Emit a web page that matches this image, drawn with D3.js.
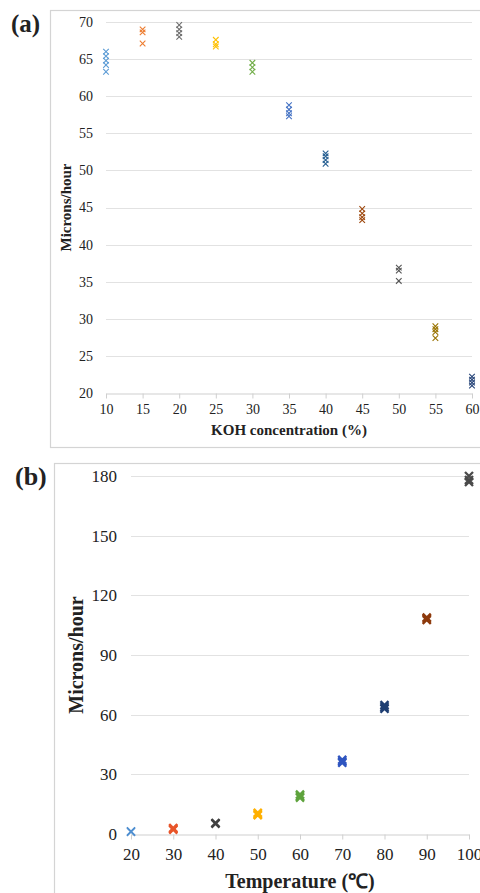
<!DOCTYPE html>
<html>
<head>
<meta charset="utf-8">
<script src="https://cdn.jsdelivr.net/npm/d3@7"></script>
<style>
  body { margin: 0; background: #fff; }
  svg { display: block; }
  svg text { font-family: "Liberation Serif", "Times New Roman", serif !important; fill: #222; }
</style>
</head>
<body>
<div id="chart"></div>
<script>
// panel (a): etch rate vs KOH concentration
var kohConc = [10, 15, 20, 25, 30, 35, 40, 45, 50, 55, 60];
var kohRates = [
  [66.0, 65.4, 64.8, 64.2, 63.3],
  [69.0, 68.6, 67.1],
  [69.6, 69.0, 68.5, 68.0],
  [67.6, 67.0, 66.7],
  [64.5, 63.9, 63.3],
  [58.8, 58.2, 57.7, 57.3],
  [52.3, 51.9, 51.4, 50.9],
  [44.8, 44.2, 43.7, 43.3],
  [36.9, 36.5, 35.1],
  [29.0, 28.6, 28.2, 27.4],
  [22.2, 21.8, 21.4, 21.0]
];
var kohColors = ["#5b9bd5", "#ed7d31", "#6f6f6f", "#ffc000", "#70ad47", "#4472c4",
                 "#255e91", "#9e480e", "#555555", "#997300", "#264478"];
var kohYTicks = [20, 25, 30, 35, 40, 45, 50, 55, 60, 65, 70];
var kohXTicks = [10, 15, 20, 25, 30, 35, 40, 45, 50, 55, 60];

// panel (b): etch rate vs temperature
var temps = [20, 30, 40, 50, 60, 70, 80, 90, 100];
var tempRates = [
  [1.0, 1.2, 1.4],
  [2.2, 2.6, 3.0],
  [5.2, 5.5],
  [9.5, 10.0, 10.6],
  [18.3, 19.0, 19.8],
  [35.8, 36.5, 37.3],
  [63.0, 63.8, 64.8],
  [107.6, 108.2, 108.8],
  [177.0, 178.0, 180.0]
];
var tempColors = ["#4f8fd0", "#e8552a", "#404040", "#ffb000", "#5ea33d", "#2f55c0",
                  "#1f3f73", "#8e3a0c", "#4a4a4a"];
var tempYTicks = [0, 30, 60, 90, 120, 150, 180];
var tempXTicks = [20, 30, 40, 50, 60, 70, 80, 90, 100];

var W = 480, H = 893;
var FONT = "'Liberation Serif', 'Times New Roman', serif";
var svg = d3.select("#chart").append("svg")
    .attr("width", W)
    .attr("height", H)
    .style("font-family", FONT);

function xmark(s) {
    return "M" + (-s) + "," + (-s) + "L" + s + "," + s + "M" + (-s) + "," + s + "L" + s + "," + (-s);
}

function drawpanel(cfg) {
    var x = d3.scaleLinear().domain(cfg.xdomain).range(cfg.xrange);
    var y = d3.scaleLinear().domain(cfg.ydomain).range(cfg.yrange);

    // outer frame
    svg.append("rect")
        .attr("x", cfg.frame[0] + 0.5)
        .attr("y", cfg.frame[1] + 0.5)
        .attr("width", cfg.frame[2])
        .attr("height", cfg.frame[3])
        .attr("fill", "none")
        .attr("stroke", "#d4d4d4")
        .attr("stroke-width", 1.2);

    svg.append("text")
        .attr("x", cfg.label[0])
        .attr("y", cfg.label[1])
        .attr("font-weight", "bold")
        .attr("font-size", cfg.labelSize + "px")
        .text(cfg.name);

    var g = svg.append("g");

    // gridlines
    g.selectAll(".grid")
        .data(cfg.yticks.slice(1))
        .enter().append("line")
        .attr("x1", cfg.xrange[0]).attr("x2", cfg.xrange[1])
        .attr("y1", function(d) { return Math.round(y(d)) + 0.5; })
        .attr("y2", function(d) { return Math.round(y(d)) + 0.5; })
        .attr("stroke", "#e2e2e2");

    // x axis
    var xa = g.append("g")
        .attr("transform", "translate(0," + (Math.round(y(cfg.ydomain[0])) + 0.5) + ")")
        .call(d3.axisBottom(x).tickValues(cfg.xticks).tickSize(5).tickSizeOuter(0).tickPadding(cfg.xpad));
    xa.attr("font-family", null);
    xa.select(".domain").attr("stroke", "#cfcfcf");
    xa.selectAll(".tick line").attr("stroke", "#cfcfcf");
    xa.selectAll(".tick text")
        .attr("font-size", cfg.tickSize + "px")
        .style("font-family", FONT)
        .attr("fill", "#222");

    // y axis labels
    var ya = g.append("g")
        .attr("transform", "translate(" + cfg.ylabelX + ",0)")
        .call(d3.axisLeft(y).tickValues(cfg.yticks).tickSize(0).tickPadding(0));
    ya.attr("font-family", null);
    ya.select(".domain").remove();
    ya.selectAll(".tick text")
        .attr("font-size", cfg.tickSize + "px")
        .style("font-family", FONT)
        .attr("fill", "#222");

    // titles
    svg.append("text")
        .attr("x", (cfg.xrange[0] + cfg.xrange[1]) / 2)
        .attr("y", cfg.xtitleY)
        .attr("text-anchor", "middle")
        .attr("font-weight", "bold")
        .attr("font-size", cfg.titleSize + "px")
        .text(cfg.xtitle);

    svg.append("text")
        .attr("transform", "translate(" + cfg.ytitleX + "," + ((cfg.yrange[0] + cfg.yrange[1]) / 2) + ") rotate(-90)")
        .attr("text-anchor", "middle")
        .attr("font-weight", "bold")
        .attr("font-size", cfg.titleSize + "px")
        .text("Microns/hour");

    // markers
    cfg.xs.forEach(function(xv, i) {
        g.selectAll(".m" + i)
            .data(cfg.vals[i])
            .enter().append("path")
            .attr("d", xmark(cfg.msize))
            .attr("transform", function(d) { return "translate(" + x(xv) + "," + y(d) + ")"; })
            .attr("fill", "none")
            .attr("stroke", cfg.colors[i])
            .attr("stroke-width", i == 0 && cfg.firstThin ? cfg.mstroke * 0.6 : cfg.mstroke);
    });
}

drawpanel({
    name: "(a)", label: [11, 32], labelSize: 25,
    frame: [50, 10, 440, 437],
    xdomain: [10, 60], xrange: [106, 472],
    ydomain: [20, 70], yrange: [393, 22],
    xticks: kohXTicks, yticks: kohYTicks,
    xs: kohConc, vals: kohRates, colors: kohColors,
    tickSize: 14, xpad: 6, ylabelX: 93,
    titleSize: 15, xtitle: "KOH concentration (%)", xtitleY: 435, ytitleX: 71,
    msize: 2.8, mstroke: 1.1, firstThin: false
});

drawpanel({
    name: "(b)", label: [15, 485], labelSize: 26,
    frame: [54, 463, 440, 440],
    xdomain: [20, 100], xrange: [131, 469],
    ydomain: [0, 180], yrange: [834, 476],
    xticks: tempXTicks, yticks: tempYTicks,
    xs: temps, vals: tempRates, colors: tempColors,
    tickSize: 17, xpad: 8, ylabelX: 117,
    titleSize: 20, xtitle: "Temperature (\u2103)", xtitleY: 888, ytitleX: 83,
    msize: 4, mstroke: 2.3, firstThin: true
});
</script>
</body>
</html>
